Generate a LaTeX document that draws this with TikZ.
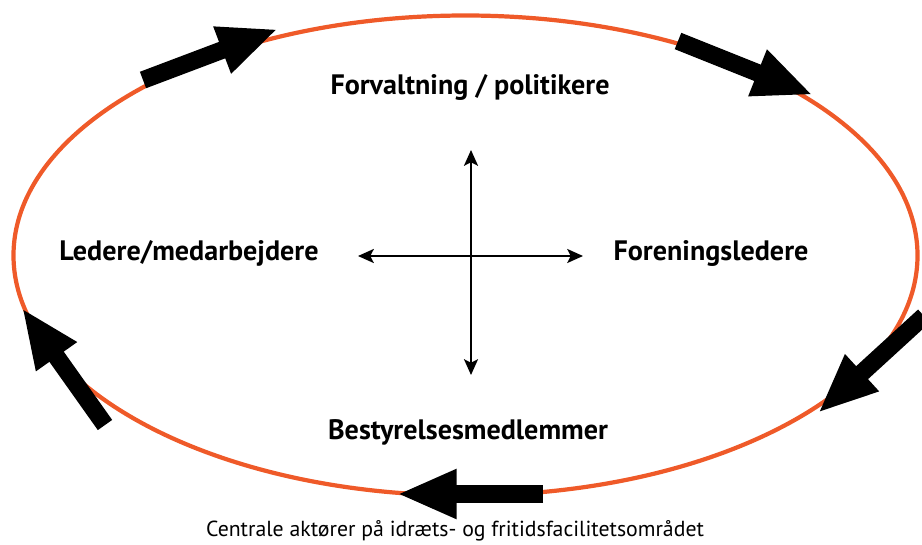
\documentclass[tikz,border=0pt]{standalone}
\usepackage{fontspec}
\setmainfont{PT Sans}
\usetikzlibrary{arrows.meta}
\definecolor{ringorange}{HTML}{EF5A29}
\tikzset{
  ring/.style = {draw = ringorange, line width = 2.4pt},
  bigarrow/.style = {line width = 10pt, -{Triangle[length = 34pt, width = 26pt]}},
  axis/.style = {line width = 1.1pt, {Stealth[length = 9pt, width = 8pt, inset = 2pt]}-{Stealth[length = 9pt, width = 8pt, inset = 2pt]}},
  actor/.style = {font = \bfseries\fontsize{16}{18}\selectfont}
}

\begin{document}
\begin{tikzpicture}[x = 0.02cm, y = -0.02cm]
\useasboundingbox (0,0) rectangle (922,544);
\draw[ring] (465.5,255.5) ellipse [x radius = 452, y radius = 240];

\node[actor] (forv) at (470,87) {Forvaltning / politikere};
\node[actor] (led) at (189,253) {Ledere/medarbejdere};
\node[actor] (foren) at (711,253) {Foreningsledere};
\node[actor] (best) at (468,432) {Bestyrelsesmedlemmer};
\node[font = \fontsize{12.4}{14}\selectfont] (caption) at (455,531) {Centrale aktører på idræts- og fritidsfacilitetsområdet};

\coordinate (mid) at (471,256);
\coordinate (west) at (358,256);
\coordinate (east) at (583,256);
\coordinate (north) at (471,150);
\coordinate (south) at (471,375);
\draw[axis] (west) -- (east);
\draw[axis] (north) -- (south);

\coordinate (tl0) at (143,80);  \coordinate (tl1) at (278,29);
\coordinate (tr0) at (678,41);  \coordinate (tr1) at (813,95);
\coordinate (r0) at (924,316);  \coordinate (r1) at (818,413);
\coordinate (b0) at (543,494);  \coordinate (b1) at (397,494);
\coordinate (l0) at (105,425);  \coordinate (l1) at (22,308);
\draw[bigarrow] (tl0) -- (tl1);
\draw[bigarrow] (tr0) -- (tr1);
\draw[bigarrow] (r0) -- (r1);
\draw[bigarrow] (b0) -- (b1);
\draw[bigarrow] (l0) -- (l1);
\end{tikzpicture}
\end{document}
